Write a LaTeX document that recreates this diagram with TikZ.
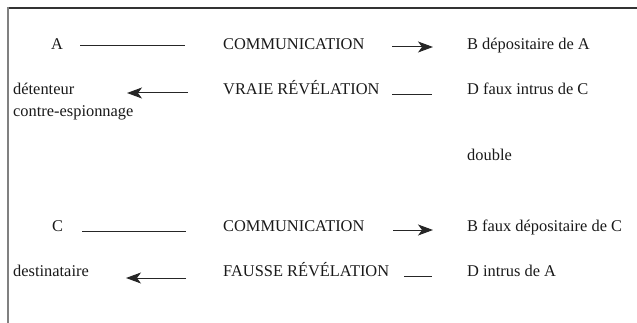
\documentclass[tikz,border=0pt]{standalone}
\usepackage{fontspec}
\setmainfont{Liberation Serif}
\usetikzlibrary{arrows.meta}
\begin{document}
\begin{tikzpicture}[x=1pt,y=-1pt,
  lbl/.style={anchor=base west, inner sep=0pt, font=\fontsize{16.4}{19}\selectfont, text=black!90},
  conn/.style={line width=1pt, draw=black!85},
  arr/.style={conn, -{Stealth[length=15pt,width=11pt,inset=4pt]}},
  frametop/.style={line width=1.3pt, draw=black!80},
  frameleft/.style={line width=2pt, draw=black!50}]
\useasboundingbox (0,0) rectangle (637,323);
% open frame
\coordinate (ftr) at (637,8);
\coordinate (ftl) at (7.5,8);
\coordinate (fbl) at (7.5,323);
\draw[frametop] (ftr) -- (ftl);
\draw[frameleft] (7.5,7.4) -- (fbl);
% texts
\node[lbl] (A) at (51,50) {A};
\node[lbl] (com1) at (223,50) {COMMUNICATION};
\node[lbl] (B1) at (467,50) {B dépositaire de A};
\node[lbl] (det) at (13,95) {détenteur};
\node[lbl] (contre) at (13,117) {contre-espionnage};
\node[lbl] (vraie) at (223,95) {VRAIE RÉVÉLATION};
\node[lbl] (D1) at (467,95) {D faux intrus de C};
\node[lbl] (double) at (467,161) {double};
\node[lbl] (C) at (52,231) {C};
\node[lbl] (com2) at (223,231) {COMMUNICATION};
\node[lbl] (B2) at (467,231) {B faux dépositaire de C};
\node[lbl] (dest) at (13,276) {destinataire};
\node[lbl] (fausse) at (223,276) {FAUSSE RÉVÉLATION};
\node[lbl] (D2) at (467,276) {D intrus de A};
% connector end points
\coordinate (l1a) at (80,46);   \coordinate (l1b) at (185,46);
\coordinate (a1a) at (392,47);  \coordinate (a1b) at (433,47);
\coordinate (a2a) at (188,93);  \coordinate (a2b) at (127,93);
\coordinate (l2a) at (392,95);  \coordinate (l2b) at (432,95);
\coordinate (l3a) at (82,231);  \coordinate (l3b) at (186,231);
\coordinate (a3a) at (393,230); \coordinate (a3b) at (433,230);
\coordinate (a4a) at (186,278); \coordinate (a4b) at (126,278);
\coordinate (l4a) at (404,276); \coordinate (l4b) at (432,276);
% connectors
\draw[conn] (l1a) -- (l1b);
\draw[arr] (a1a) -- (a1b);
\draw[arr] (a2a) -- (a2b);
\draw[conn] (l2a) -- (l2b);
\draw[conn] (l3a) -- (l3b);
\draw[arr] (a3a) -- (a3b);
\draw[arr] (a4a) -- (a4b);
\draw[conn] (l4a) -- (l4b);
\end{tikzpicture}
\end{document}
